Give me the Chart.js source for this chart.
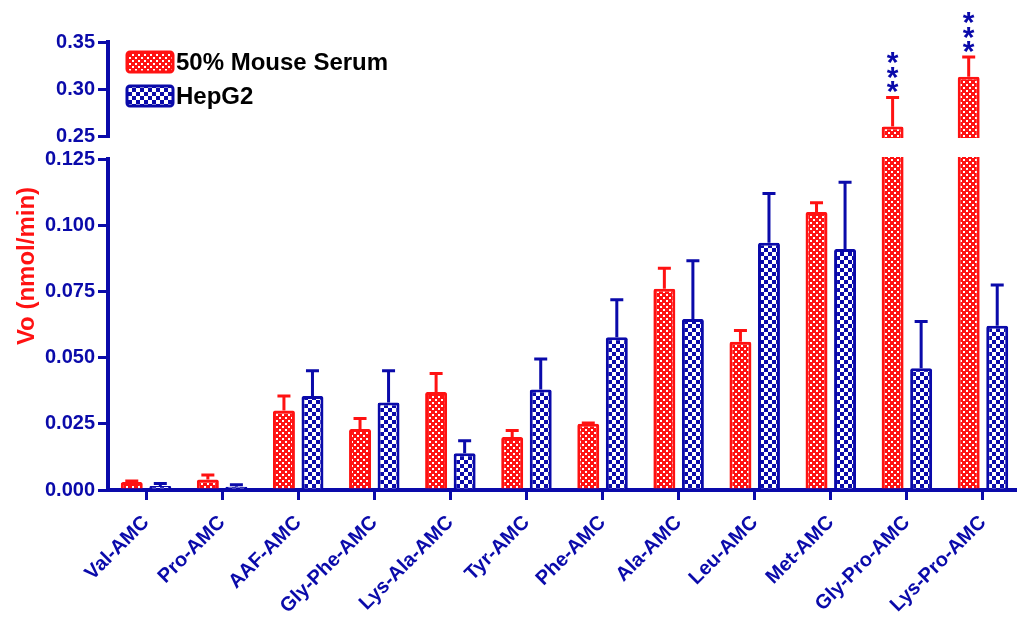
<!DOCTYPE html>
<html>
<head>
<meta charset="utf-8">
<script src="https://cdn.jsdelivr.net/npm/chart.js"></script>
<style>
  html, body { margin: 0; padding: 0; background: #fff; overflow: hidden; }
  #wrap { width: 1030px; height: 620px; }
</style>
</head>
<body>
<div id="wrap"><canvas id="chart" width="1030" height="620"></canvas></div>
<script>
// substrates on the x axis
var substrates = ['Val-AMC', 'Pro-AMC', 'AAF-AMC', 'Gly-Phe-AMC', 'Lys-Ala-AMC', 'Tyr-AMC',
                  'Phe-AMC', 'Ala-AMC', 'Leu-AMC', 'Met-AMC', 'Gly-Pro-AMC', 'Lys-Pro-AMC'];

// Vo (nmol/min), mean and upper error
var serumVo  = [0.003, 0.004, 0.030, 0.023, 0.037, 0.020, 0.025, 0.076, 0.056, 0.105, 0.260, 0.313];
var serumSem = [0.0004, 0.0017, 0.0055, 0.004, 0.007, 0.0025, 0.0003, 0.0077, 0.0042, 0.0035, 0.031, 0.021];
var hepg2Vo  = [0.0015, 0.0012, 0.0355, 0.033, 0.0139, 0.038, 0.0577, 0.0646, 0.0934, 0.091, 0.046, 0.062];
var hepg2Sem = [0.001, 0.0008, 0.0095, 0.012, 0.0047, 0.0115, 0.0141, 0.022, 0.0186, 0.0252, 0.0176, 0.0154];
var serumStars = ['', '', '', '', '', '', '', '', '', '', '***', '***'];

// broken y axis
var yTickValues = [0, 0.025, 0.05, 0.075, 0.1, 0.125, 0.25, 0.30, 0.35];
var yBreak = [0.125, 0.25];
var LOWER_FRAC = 331 / 448, GAP_FRAC = 23 / 448;

var RED = '#ff1212', BLUE = '#0a0aaa';
var FONT = "'Liberation Sans', Arial, sans-serif";

function makePattern(size, cell, bg, fg) {
    var c = document.createElement('canvas');
    c.width = size; c.height = size;
    var g = c.getContext('2d');
    g.fillStyle = bg;
    g.fillRect(0, 0, size, size);
    g.fillStyle = fg;
    g.fillRect(0, 0, cell, cell);
    g.fillRect(size / 2, size / 2, cell, cell);
    return g.createPattern(c, 'repeat');
}
var redFill = makePattern(6, 2, RED, '#ffffff');
var blueFill = makePattern(8, 4, BLUE, '#ffffff');

class BrokenScale extends Chart.LinearScale {
    buildTicks() {
        this.start = this.min;
        this.end = this.max;
        return yTickValues.map(function (v) { return { value: v }; });
    }
    getPixelForValue(v) {
        if (v === null || isNaN(v)) return NaN;
        var H = this.bottom - this.top;
        var lowH = H * LOWER_FRAC, gapH = H * GAP_FRAC, upH = H - lowH - gapH;
        if (v <= yBreak[0]) return this.bottom - v / yBreak[0] * lowH;
        if (v >= yBreak[1]) return this.bottom - lowH - gapH - (v - yBreak[1]) / (this.max - yBreak[1]) * upH;
        return this.bottom - lowH - (v - yBreak[0]) / (yBreak[1] - yBreak[0]) * gapH;
    }
    getValueForPixel(p) {
        var H = this.bottom - this.top;
        var lowH = H * LOWER_FRAC, gapH = H * GAP_FRAC, upH = H - lowH - gapH;
        var d = this.bottom - p;
        if (d <= lowH) return d / lowH * yBreak[0];
        if (d <= lowH + gapH) return yBreak[0] + (d - lowH) / gapH * (yBreak[1] - yBreak[0]);
        return yBreak[1] + (d - lowH - gapH) / upH * (this.max - yBreak[1]);
    }
}
BrokenScale.id = 'broken';
BrokenScale.defaults = Chart.LinearScale.defaults;
Chart.register(BrokenScale);

// white gap across the break, then error bars and significance stars
var decorations = {
    id: 'decorations',
    afterDatasetsDraw: function (chart) {
        var ctx = chart.ctx, y = chart.scales.y;
        var gTop = y.getPixelForValue(yBreak[1]) + 2;
        var gBot = y.getPixelForValue(yBreak[0]) - 2;
        ctx.save();
        ctx.fillStyle = '#ffffff';
        ctx.fillRect(y.right - 12, gTop, chart.width, gBot - gTop);

        chart.data.datasets.forEach(function (ds, i) {
            var meta = chart.getDatasetMeta(i);
            meta.data.forEach(function (bar, j) {
                var top = y.getPixelForValue(ds.data[j]);
                var end = y.getPixelForValue(ds.data[j] + ds.sem[j]);
                ctx.strokeStyle = ds.borderColor;
                ctx.lineWidth = 3;
                ctx.beginPath();
                ctx.moveTo(bar.x, top);
                ctx.lineTo(bar.x, end);
                ctx.moveTo(bar.x - 6.5, end);
                ctx.lineTo(bar.x + 6.5, end);
                ctx.stroke();
                var s = ds.stars ? ds.stars[j] : '';
                if (s) {
                    ctx.fillStyle = BLUE;
                    ctx.font = 'bold 30px ' + FONT;
                    ctx.textAlign = 'center';
                    ctx.textBaseline = 'alphabetic';
                    for (var k = 0; k < s.length; k++) {
                        ctx.fillText(s[k], bar.x, end - 13 - k * 14.5 + 17);
                    }
                }
            });
        });
        ctx.restore();
    },
    afterDraw: function (chart) {
        var ctx = chart.ctx, a = chart.chartArea;
        ctx.save();
        chart.data.datasets.forEach(function (ds, i) {
            var x = a.left + 19, y = a.top + 10 + i * 34;
            ctx.beginPath();
            ctx.roundRect(x, y, 46, 20, 3);
            ctx.fillStyle = ds.backgroundColor;
            ctx.fill();
            ctx.lineWidth = 3;
            ctx.strokeStyle = ds.borderColor;
            ctx.stroke();
            ctx.fillStyle = '#000000';
            ctx.font = 'bold 24px ' + FONT;
            ctx.textAlign = 'left';
            ctx.textBaseline = 'middle';
            ctx.fillText(ds.label, x + 49, y + 11);
        });
        ctx.restore();
    }
};

var tickFont = { family: FONT, size: 20, weight: 'bold' };

new Chart(document.getElementById('chart'), {
    type: 'bar',
    data: {
        labels: substrates,
        datasets: [
            {
                label: '50% Mouse Serum',
                data: serumVo,
                sem: serumSem,
                stars: serumStars,
                backgroundColor: redFill,
                borderColor: RED,
                borderWidth: 3,
                borderRadius: 2,
                categoryPercentage: 0.75,
                barPercentage: 0.77
            },
            {
                label: 'HepG2',
                data: hepg2Vo,
                sem: hepg2Sem,
                backgroundColor: blueFill,
                borderColor: BLUE,
                borderWidth: 3,
                borderRadius: 2,
                categoryPercentage: 0.75,
                barPercentage: 0.77
            }
        ]
    },
    options: {
        responsive: false,
        animation: false,
        layout: { padding: { top: 42, right: 9, bottom: 0, left: 0 } },
        plugins: { legend: { display: false }, tooltip: { enabled: false } },
        scales: {
            x: {
                afterFit: function (s) { s.height = 130; },
                border: { color: BLUE, width: 4 },
                grid: { offset: false, drawOnChartArea: false, color: BLUE, lineWidth: 3, tickLength: 10 },
                ticks: { autoSkip: false, maxRotation: 45, minRotation: 45, color: BLUE, font: tickFont, padding: 11 }
            },
            y: {
                type: 'broken',
                min: 0,
                max: 0.35,
                afterFit: function (s) { s.width = 108; },
                border: { color: BLUE, width: 4 },
                grid: { drawOnChartArea: false, color: BLUE, lineWidth: 3, tickLength: 10 },
                ticks: {
                    autoSkip: false, color: BLUE, font: tickFont, padding: 3,
                    callback: function (v) { return v >= yBreak[1] ? v.toFixed(2) : v.toFixed(3); }
                },
                title: {
                    display: true, text: 'Vo (nmol/min)', color: RED,
                    font: { family: FONT, size: 24, weight: 'bold' },
                    padding: { top: 13, bottom: 0 }
                }
            }
        }
    },
    plugins: [decorations]
});
</script>
</body>
</html>
